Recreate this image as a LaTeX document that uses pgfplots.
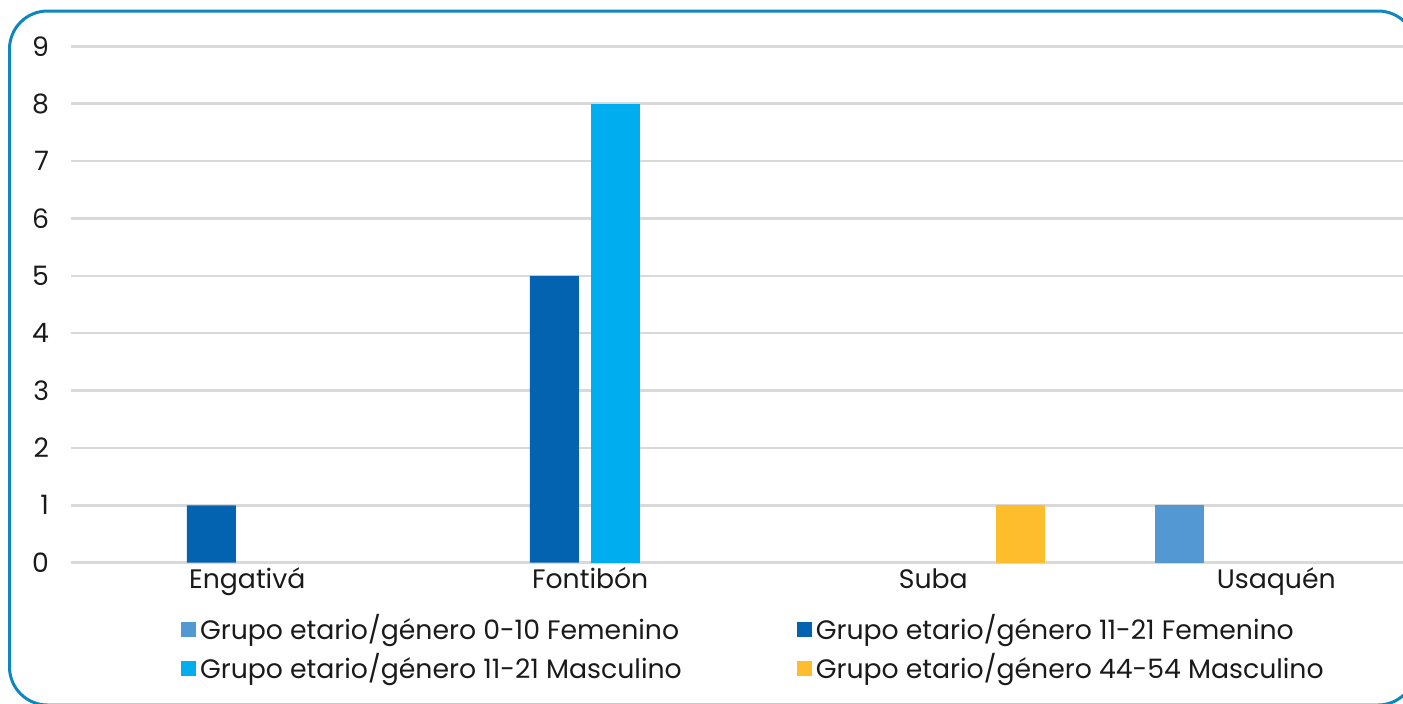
\documentclass[border=0pt]{standalone}
\usepackage{fontspec}
\setmainfont{Poppins}
\usepackage{pgfplots}
\pgfplotsset{compat=1.18}
\definecolor{cA}{RGB}{83,151,211}
\definecolor{cB}{RGB}{3,99,176}
\definecolor{cC}{RGB}{0,174,239}
\definecolor{cD}{RGB}{253,189,44}
\definecolor{framec}{RGB}{14,134,192}
\definecolor{gridc}{RGB}{217,217,217}
\definecolor{txt}{RGB}{26,26,26}
\begin{document}
\fontsize{7.6pt}{9pt}\selectfont
\begin{tikzpicture}
\useasboundingbox (0mm,0mm) rectangle (140.3mm,70.3mm);
\begin{scope}
\clip (0mm,0mm) rectangle (140.3mm,70.3mm);
\draw[framec, line width=0.3mm, rounded corners=3.8mm] (0.95mm,-0.2mm) rectangle (141.6mm,69.2mm);
\end{scope}
\begin{axis}[
  scale only axis,
  width=133.23mm, height=51.64mm,
  at={(7.07mm,14.03mm)}, anchor=south west,
  xmin=-0.5, xmax=3.384, ymin=0, ymax=9,
  ytick={0,1,...,9},
  xtick={0,1,2,3},
  xticklabels={Engativá,Fontibón,Suba,Usaquén},
  axis line style={draw=none},
  tick style={draw=none},
  ymajorgrids,
  major grid style={gridc, line width=0.25mm},
  /pgf/number format/assume math mode=true,
  tick label style={font=\fontsize{7.6pt}{9pt}\selectfont, text=txt},
  yticklabel style={anchor=east, inner sep=0pt, xshift=-2.1mm},
  xticklabel style={anchor=base, inner sep=0pt, yshift=-1.05mm, xshift=0.5mm},
  ybar, bar width=4.9mm,
  clip=true,
  legend columns=2,
  legend style={draw=none, fill=none, inner sep=0pt, outer sep=0pt,
    at={(0.0828,-0.10)}, anchor=north west, yshift=-0.15mm,
    font=\fontsize{7.6pt}{9pt}\selectfont, text=txt,
    nodes={inner sep=0pt, text height=2.4mm, text depth=0.7mm},
    row sep=0.8mm,
    /tikz/every even column/.append style={column sep=11.5mm},
    /tikz/every odd column/.append style={column sep=0.4mm},
    cells={anchor=west}},
  legend image code/.code={\fill (0mm,-0.6mm) rectangle (1.5mm,0.9mm);},
]
\addplot[fill=cA, draw=none, bar shift=-9.225mm] coordinates {(3,1)};
\addplot[fill=cB, draw=none, bar shift=-3.075mm] coordinates {(0,1) (1,5)};
\addplot[fill=cC, draw=none, bar shift=3.075mm] coordinates {(1,8)};
\addplot[fill=cD, draw=none, bar shift=9.225mm] coordinates {(2,1)};
\legend{Grupo etario/género 0-10 Femenino, Grupo etario/género 11-21 Femenino, Grupo etario/género 11-21 Masculino, Grupo etario/género 44-54 Masculino}
\end{axis}
\end{tikzpicture}
\end{document}
